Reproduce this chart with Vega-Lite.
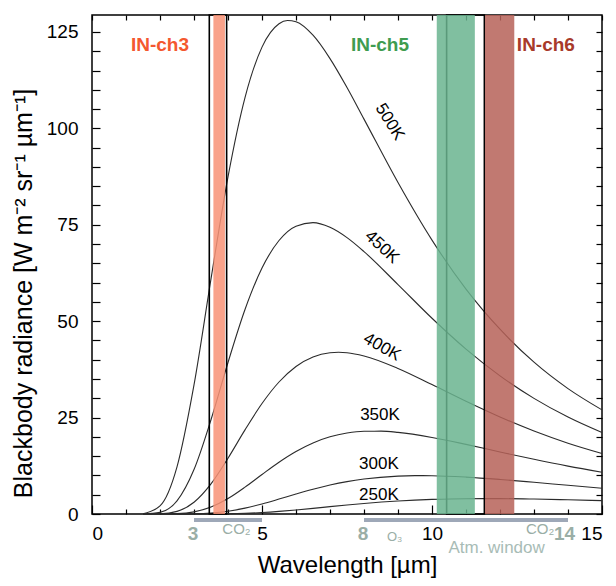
{
  "$schema": "https://vega.github.io/schema/vega-lite/v6.json",
  "width": 510,
  "height": 499,
  "autosize": {"type": "none"},
  "padding": {"left": 92, "top": 15, "right": 14, "bottom": 72},
  "background": "white",
  "config": {
    "font": "Liberation Sans",
    "view": {"stroke": "black", "strokeWidth": 1.5},
    "axis": {"grid": false, "domain": false, "tickColor": "black", "tickWidth": 1.2, "labelColor": "black", "titleColor": "black", "labelFont": "Liberation Sans", "titleFont": "Liberation Sans", "titleFontWeight": "normal"}
  },
  "datasets": {
    "curves": [
      {"T": "500K", "w": 1.5, "b": 0.073}, {"T": "500K", "w": 2, "b": 2.10}, {"T": "500K", "w": 2.5, "b": 12.23}, {"T": "500K", "w": 3, "b": 33.47}, {"T": "500K", "w": 3.5, "b": 60.97}, {"T": "500K", "w": 4, "b": 87.43}, {"T": "500K", "w": 4.5, "b": 108.0}, {"T": "500K", "w": 5, "b": 121.07}, {"T": "500K", "w": 5.5, "b": 127.13}, {"T": "500K", "w": 5.75, "b": 127.97}, {"T": "500K", "w": 6, "b": 127.63}, {"T": "500K", "w": 6.5, "b": 124.15}, {"T": "500K", "w": 7, "b": 118.1}, {"T": "500K", "w": 7.5, "b": 110.6}, {"T": "500K", "w": 8, "b": 102.4}, {"T": "500K", "w": 9, "b": 85.95}, {"T": "500K", "w": 10, "b": 71.02}, {"T": "500K", "w": 11, "b": 58.32}, {"T": "500K", "w": 12, "b": 47.92}, {"T": "500K", "w": 13, "b": 39.37}, {"T": "500K", "w": 14, "b": 32.52}, {"T": "500K", "w": 15, "b": 27.0},
      {"T": "450K", "w": 1.5, "b": 0.0087}, {"T": "450K", "w": 2, "b": 0.424}, {"T": "450K", "w": 2.5, "b": 3.404}, {"T": "450K", "w": 3, "b": 11.52}, {"T": "450K", "w": 3.5, "b": 24.45}, {"T": "450K", "w": 4, "b": 39.29}, {"T": "450K", "w": 4.5, "b": 53.03}, {"T": "450K", "w": 5, "b": 63.78}, {"T": "450K", "w": 5.5, "b": 70.92}, {"T": "450K", "w": 6, "b": 74.64}, {"T": "450K", "w": 6.5, "b": 75.56}, {"T": "450K", "w": 7, "b": 74.35}, {"T": "450K", "w": 7.5, "b": 71.67}, {"T": "450K", "w": 8, "b": 68.05}, {"T": "450K", "w": 9, "b": 59.49}, {"T": "450K", "w": 10, "b": 50.76}, {"T": "450K", "w": 11, "b": 42.76}, {"T": "450K", "w": 12, "b": 35.83}, {"T": "450K", "w": 13, "b": 29.98}, {"T": "450K", "w": 14, "b": 25.13}, {"T": "450K", "w": 15, "b": 21.11},
      {"T": "400K", "w": 1.5, "b": 0.0006}, {"T": "400K", "w": 2, "b": 0.0575}, {"T": "400K", "w": 2.5, "b": 0.688}, {"T": "400K", "w": 3, "b": 3.042}, {"T": "400K", "w": 3.5, "b": 7.805}, {"T": "400K", "w": 4, "b": 14.47}, {"T": "400K", "w": 4.5, "b": 21.81}, {"T": "400K", "w": 5, "b": 28.65}, {"T": "400K", "w": 5.5, "b": 34.23}, {"T": "400K", "w": 6, "b": 38.26}, {"T": "400K", "w": 6.5, "b": 40.72}, {"T": "400K", "w": 7, "b": 41.82}, {"T": "400K", "w": 7.25, "b": 41.94}, {"T": "400K", "w": 7.5, "b": 41.82}, {"T": "400K", "w": 8, "b": 40.99}, {"T": "400K", "w": 9, "b": 37.76}, {"T": "400K", "w": 10, "b": 33.56}, {"T": "400K", "w": 11, "b": 29.22}, {"T": "400K", "w": 12, "b": 25.15}, {"T": "400K", "w": 13, "b": 21.52}, {"T": "400K", "w": 14, "b": 18.37}, {"T": "400K", "w": 15, "b": 15.70},
      {"T": "350K", "w": 1.5, "b": 0.0}, {"T": "350K", "w": 2, "b": 0.0044}, {"T": "350K", "w": 2.5, "b": 0.0881}, {"T": "350K", "w": 3, "b": 0.549}, {"T": "350K", "w": 3.5, "b": 1.798}, {"T": "350K", "w": 4, "b": 4.003}, {"T": "350K", "w": 4.5, "b": 6.960}, {"T": "350K", "w": 5, "b": 10.25}, {"T": "350K", "w": 5.5, "b": 13.44}, {"T": "350K", "w": 6, "b": 16.22}, {"T": "350K", "w": 6.5, "b": 18.43}, {"T": "350K", "w": 7, "b": 20.01}, {"T": "350K", "w": 7.5, "b": 20.99}, {"T": "350K", "w": 8, "b": 21.45}, {"T": "350K", "w": 8.5, "b": 21.48}, {"T": "350K", "w": 9, "b": 21.16}, {"T": "350K", "w": 10, "b": 19.85}, {"T": "350K", "w": 11, "b": 18.05}, {"T": "350K", "w": 12, "b": 16.09}, {"T": "350K", "w": 13, "b": 14.18}, {"T": "350K", "w": 14, "b": 12.41}, {"T": "350K", "w": 15, "b": 10.82},
      {"T": "300K", "w": 2, "b": 0.0001}, {"T": "300K", "w": 2.5, "b": 0.0057}, {"T": "300K", "w": 3, "b": 0.0559}, {"T": "300K", "w": 3.5, "b": 0.254}, {"T": "300K", "w": 4, "b": 0.722}, {"T": "300K", "w": 4.5, "b": 1.518}, {"T": "300K", "w": 5, "b": 2.602}, {"T": "300K", "w": 5.5, "b": 3.865}, {"T": "300K", "w": 6, "b": 5.175}, {"T": "300K", "w": 6.5, "b": 6.416}, {"T": "300K", "w": 7, "b": 7.506}, {"T": "300K", "w": 7.5, "b": 8.399}, {"T": "300K", "w": 8, "b": 9.078}, {"T": "300K", "w": 9, "b": 9.829}, {"T": "300K", "w": 9.5, "b": 9.946}, {"T": "300K", "w": 10, "b": 9.925}, {"T": "300K", "w": 11, "b": 9.573}, {"T": "300K", "w": 12, "b": 8.962}, {"T": "300K", "w": 13, "b": 8.223}, {"T": "300K", "w": 14, "b": 7.445}, {"T": "300K", "w": 15, "b": 6.684},
      {"T": "250K", "w": 2.5, "b": 0.0001}, {"T": "250K", "w": 3, "b": 0.0023}, {"T": "250K", "w": 3.5, "b": 0.0164}, {"T": "250K", "w": 4, "b": 0.0656}, {"T": "250K", "w": 4.5, "b": 0.180}, {"T": "250K", "w": 5, "b": 0.382}, {"T": "250K", "w": 5.5, "b": 0.676}, {"T": "250K", "w": 6, "b": 1.046}, {"T": "250K", "w": 6.5, "b": 1.466}, {"T": "250K", "w": 7, "b": 1.905}, {"T": "250K", "w": 7.5, "b": 2.335}, {"T": "250K", "w": 8, "b": 2.732}, {"T": "250K", "w": 9, "b": 3.375}, {"T": "250K", "w": 10, "b": 3.784}, {"T": "250K", "w": 11, "b": 3.973}, {"T": "250K", "w": 12, "b": 3.988}, {"T": "250K", "w": 13, "b": 3.880}, {"T": "250K", "w": 14, "b": 3.691}, {"T": "250K", "w": 15, "b": 3.457}
    ],
    "bands": [
      {"ch": "IN-ch3", "x": 3.57, "x2": 3.91},
      {"ch": "IN-ch5", "x": 10.14, "x2": 11.26},
      {"ch": "IN-ch6", "x": 11.56, "x2": 12.42}
    ],
    "boxes": [
      {"x": 3.45, "x2": 3.96},
      {"x": 10.43, "x2": 11.54}
    ],
    "chlabels": [
      {"label": "IN-ch3", "x": 2.0, "y": 121.6},
      {"label": "IN-ch5", "x": 8.47, "y": 121.6},
      {"label": "IN-ch6", "x": 13.35, "y": 121.6}
    ],
    "curvelabels": [
      {"label": "500K", "x": 8.76, "y": 101.7},
      {"label": "450K", "x": 8.53, "y": 69.2},
      {"label": "400K", "x": 8.53, "y": 43.3},
      {"label": "350K", "x": 8.47, "y": 25.7},
      {"label": "300K", "x": 8.44, "y": 13.0},
      {"label": "250K", "x": 8.44, "y": 4.9}
    ],
    "ranges": [
      {"x": 3, "x2": 5},
      {"x": 8, "x2": 14}
    ],
    "bottomtext": [
      {"label": "3", "x": 2.97, "y": -5.2, "kind": "num"},
      {"label": "8", "x": 7.97, "y": -5.2, "kind": "num"},
      {"label": "14", "x": 13.9, "y": -5.2, "kind": "num"},
      {"label": "CO₂", "x": 4.25, "y": -3.9, "kind": "gas"},
      {"label": "CO₂", "x": 13.18, "y": -3.9, "kind": "gas"},
      {"label": "O₃", "x": 8.9, "y": -6.0, "kind": "o3"},
      {"label": "Atm. window", "x": 11.9, "y": -8.8, "kind": "win"}
    ]
  },
  "resolve": {"axis": {"x": "independent", "y": "independent"}, "scale": {"color": "independent"}},
  "layer": [
    {
      "data": {"name": "curves"},
      "mark": {"type": "line", "color": "#2b2b2b", "strokeWidth": 1.1, "interpolate": "monotone"},
      "encoding": {
        "x": {"field": "w", "type": "quantitative", "scale": {"domain": [0, 15], "nice": false},
          "axis": {"orient": "bottom", "values": [0, 5, 10, 15], "tickSize": 9, "offset": -9,
            "labelFontSize": 19, "labelPadding": 10, "title": "Wavelength [µm]", "titleFontSize": 24, "titlePadding": 10}},
        "y": {"field": "b", "type": "quantitative", "scale": {"domain": [0, 129.4], "nice": false},
          "axis": {"orient": "left", "values": [0,5,10,15,20,25,30,35,40,45,50,55,60,65,70,75,80,85,90,95,100,105,110,115,120,125], "labelExpr": "datum.value % 25 === 0 ? datum.label : ''",
            "tickSize": 8, "offset": -8,
            "labelFontSize": 19, "labelPadding": 14, "title": "Blackbody radiance [W m⁻² sr⁻¹ µm⁻¹]", "titleFontSize": 25, "titlePadding": 10, "titleY": 278}},
        "detail": {"field": "T"}
      }
    },
    {
      "data": {"name": "boxes"},
      "mark": {"type": "rect", "filled": false, "stroke": "black", "strokeWidth": 1.6},
      "encoding": {
        "x": {"field": "x", "type": "quantitative", "scale": {"domain": [0, 15], "nice": false}, "axis": null},
        "x2": {"field": "x2"}
      }
    },
    {
      "data": {"name": "bands"},
      "mark": {"type": "rect", "opacity": 0.85},
      "encoding": {
        "x": {"field": "x", "type": "quantitative", "scale": {"domain": [0, 15], "nice": false}, "axis": null},
        "x2": {"field": "x2"},
        "color": {"field": "ch", "type": "nominal", "scale": {"domain": ["IN-ch3", "IN-ch5", "IN-ch6"], "range": ["#f89276", "#6ab48f", "#b66258"]}, "legend": null}
      }
    },
    {
      "data": {"name": "chlabels"},
      "mark": {"type": "text", "fontSize": 19, "fontWeight": "bold", "align": "center", "baseline": "middle"},
      "encoding": {
        "x": {"field": "x", "type": "quantitative", "scale": {"domain": [0, 15], "nice": false},
          "axis": {"orient": "top", "values": [0,1,2,3,4,5,6,7,8,9,10,11,12,13,14,15], "labels": false, "title": null, "tickSize": 5, "offset": -5}},
        "y": {"field": "y", "type": "quantitative", "scale": {"domain": [0, 129.4], "nice": false},
          "axis": {"orient": "right", "values": [0,5,10,15,20,25,30,35,40,45,50,55,60,65,70,75,80,85,90,95,100,105,110,115,120,125], "labels": false, "title": null, "tickSize": 6, "offset": -6}},
        "text": {"field": "label"},
        "color": {"field": "label", "type": "nominal", "scale": {"domain": ["IN-ch3", "IN-ch5", "IN-ch6"], "range": ["#f4582f", "#3f9c50", "#a83a2a"]}, "legend": null}
      }
    },
    {
      "data": {"name": "curvelabels"},
      "transform": [{"filter": "datum.label === '500K'"}],
      "mark": {"type": "text", "fontSize": 17, "angle": 58, "color": "black"},
      "encoding": {
        "x": {"field": "x", "type": "quantitative",
          "axis": {"orient": "bottom", "values": [1,2,3,4,6,7,8,9,11,12,13,14], "labels": false, "title": null, "tickSize": 5, "offset": -5}},
        "y": {"field": "y", "type": "quantitative", "axis": null},
        "text": {"field": "label"}
      }
    },
    {
      "data": {"name": "curvelabels"},
      "transform": [{"filter": "datum.label === '450K'"}],
      "mark": {"type": "text", "fontSize": 17, "angle": 43, "color": "black"},
      "encoding": {
        "x": {"field": "x", "type": "quantitative", "axis": null},
        "y": {"field": "y", "type": "quantitative", "axis": null},
        "text": {"field": "label"}
      }
    },
    {
      "data": {"name": "curvelabels"},
      "transform": [{"filter": "datum.label === '400K'"}],
      "mark": {"type": "text", "fontSize": 17, "angle": 30, "color": "black"},
      "encoding": {
        "x": {"field": "x", "type": "quantitative", "axis": null},
        "y": {"field": "y", "type": "quantitative", "axis": null},
        "text": {"field": "label"}
      }
    },
    {
      "data": {"name": "curvelabels"},
      "transform": [{"filter": "datum.label === '350K' || datum.label === '300K' || datum.label === '250K'"}],
      "mark": {"type": "text", "fontSize": 17, "color": "black"},
      "encoding": {
        "x": {"field": "x", "type": "quantitative", "axis": null},
        "y": {"field": "y", "type": "quantitative", "axis": null},
        "text": {"field": "label"}
      }
    },
    {
      "data": {"name": "ranges"},
      "mark": {"type": "rule", "color": "#9ea8b8", "strokeWidth": 4},
      "encoding": {
        "x": {"field": "x", "type": "quantitative", "axis": null},
        "x2": {"field": "x2"},
        "y": {"datum": -1.55, "type": "quantitative", "axis": null}
      }
    },
    {
      "data": {"name": "bottomtext"},
      "transform": [{"filter": "datum.kind === 'num'"}],
      "mark": {"type": "text", "fontSize": 19, "fontWeight": "bold", "color": "#9aaea6", "baseline": "middle"},
      "encoding": {
        "x": {"field": "x", "type": "quantitative", "axis": null},
        "y": {"field": "y", "type": "quantitative", "axis": null},
        "text": {"field": "label"}
      }
    },
    {
      "data": {"name": "bottomtext"},
      "transform": [{"filter": "datum.kind === 'gas'"}],
      "mark": {"type": "text", "fontSize": 15, "color": "#9aaea6", "baseline": "middle"},
      "encoding": {
        "x": {"field": "x", "type": "quantitative", "axis": null},
        "y": {"field": "y", "type": "quantitative", "axis": null},
        "text": {"field": "label"}
      }
    },
    {
      "data": {"name": "bottomtext"},
      "transform": [{"filter": "datum.kind === 'o3'"}],
      "mark": {"type": "text", "fontSize": 13, "color": "#9aaea6", "baseline": "middle"},
      "encoding": {
        "x": {"field": "x", "type": "quantitative", "axis": null},
        "y": {"field": "y", "type": "quantitative", "axis": null},
        "text": {"field": "label"}
      }
    },
    {
      "data": {"name": "bottomtext"},
      "transform": [{"filter": "datum.kind === 'win'"}],
      "mark": {"type": "text", "fontSize": 17, "color": "#a8bcb6", "baseline": "middle"},
      "encoding": {
        "x": {"field": "x", "type": "quantitative", "axis": null},
        "y": {"field": "y", "type": "quantitative", "axis": null},
        "text": {"field": "label"}
      }
    }
  ]
}
